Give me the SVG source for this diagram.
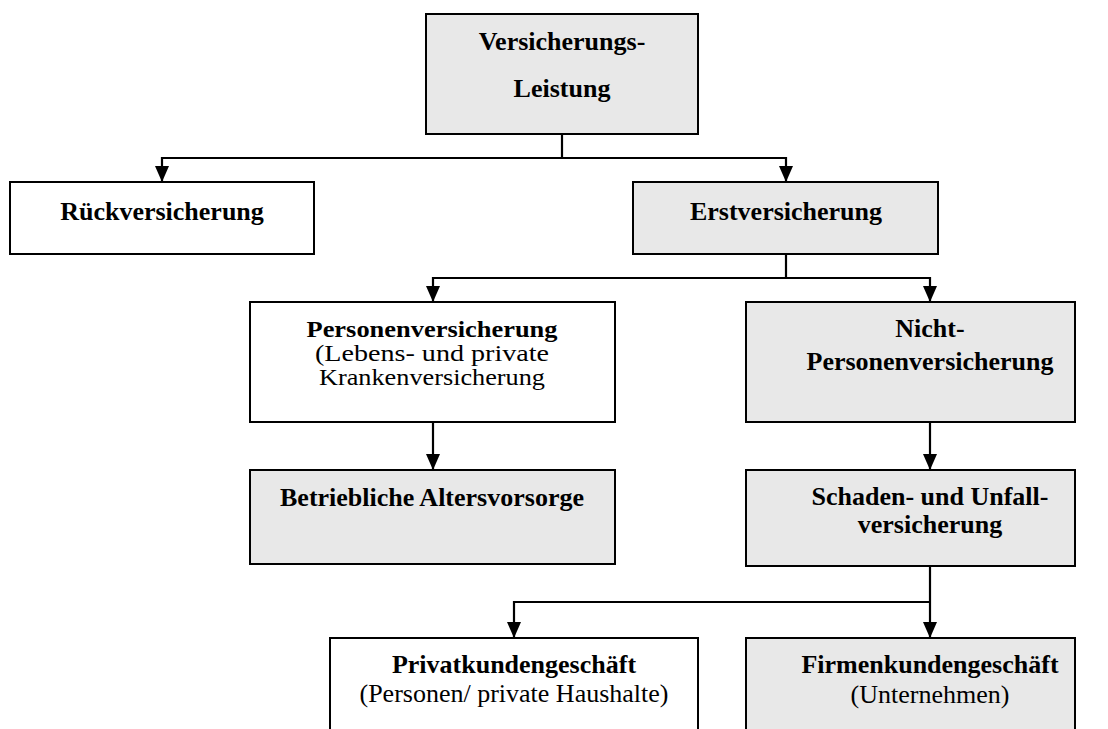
<svg xmlns="http://www.w3.org/2000/svg" width="1108" height="729" viewBox="0 0 1108 729">
  <style>
    .box { stroke: #000; stroke-width: 2; }
    .grey { fill: #e8e8e8; }
    .white { fill: #fff; }
    text { font-family: "Liberation Serif", "Times New Roman", serif; fill: #000; text-anchor: middle; }
    .b { font-weight: bold; font-size: 26px; }
    .r { font-size: 26px; }
    .s { font-size: 24px; }
    .conn { fill: none; stroke: #000; stroke-width: 2.2; }
  </style>
  <defs>
    <marker id="arr" markerUnits="userSpaceOnUse" markerWidth="16" markerHeight="16" viewBox="0 0 16 16" refX="16" refY="8" orient="auto">
      <path d="M0,1 L16,8 L0,15 z" fill="#000"/>
    </marker>
  </defs>
  <rect width="1108" height="729" fill="#fff"/>

  <g id="connectors">
    <path class="conn" d="M562,134 V158"/>
    <path class="conn" d="M562,158 H162 V182" marker-end="url(#arr)"/>
    <path class="conn" d="M562,158 H786 V182" marker-end="url(#arr)"/>
    <path class="conn" d="M786,254 V278"/>
    <path class="conn" d="M786,278 H433 V302" marker-end="url(#arr)"/>
    <path class="conn" d="M786,278 H930 V302" marker-end="url(#arr)"/>
    <path class="conn" d="M433,422 V470" marker-end="url(#arr)"/>
    <path class="conn" d="M930,422 V470" marker-end="url(#arr)"/>
    <path class="conn" d="M930,566 V638" marker-end="url(#arr)"/>
    <path class="conn" d="M930,602 H514 V638" marker-end="url(#arr)"/>
  </g>

  <g id="versicherungsleistung">
    <rect class="box grey" x="426" y="14" width="272" height="120"/>
    <text class="b" x="562" y="50">Versicherungs-</text>
    <text class="b" x="562" y="97">Leistung</text>
  </g>

  <g id="rueckversicherung">
    <rect class="box white" x="10" y="182" width="304" height="72"/>
    <text class="b" x="162" y="220">Rückversicherung</text>
  </g>

  <g id="erstversicherung">
    <rect class="box grey" x="633" y="182" width="305" height="72"/>
    <text class="b" x="786" y="220">Erstversicherung</text>
  </g>

  <g id="personenversicherung">
    <rect class="box white" x="250" y="302" width="365" height="120"/>
    <text class="b s" x="432" y="337" textLength="251" lengthAdjust="spacingAndGlyphs">Personenversicherung</text>
    <text class="s" x="432" y="361" textLength="234" lengthAdjust="spacingAndGlyphs">(Lebens- und private</text>
    <text class="s" x="432" y="385" textLength="226" lengthAdjust="spacingAndGlyphs">Krankenversicherung</text>
  </g>

  <g id="nichtpersonenversicherung">
    <rect class="box grey" x="746" y="302" width="329" height="120"/>
    <text class="b" x="930" y="337">Nicht-</text>
    <text class="b" x="930" y="370">Personenversicherung</text>
  </g>

  <g id="betriebliche-altersvorsorge">
    <rect class="box grey" x="250" y="470" width="365" height="94"/>
    <text class="b" x="432" y="506">Betriebliche Altersvorsorge</text>
  </g>

  <g id="schaden-unfall">
    <rect class="box grey" x="746" y="470" width="329" height="96"/>
    <text class="b" x="930" y="505">Schaden- und Unfall-</text>
    <text class="b" x="930" y="533">versicherung</text>
  </g>

  <g id="privatkunden">
    <rect class="box white" x="330" y="638" width="368" height="110"/>
    <text class="b" x="514" y="673">Privatkundengeschäft</text>
    <text class="r" x="514" y="702">(Personen/ private Haushalte)</text>
  </g>

  <g id="firmenkunden">
    <rect class="box grey" x="746" y="638" width="329" height="110"/>
    <text class="b" x="930" y="673">Firmenkundengeschäft</text>
    <text class="r" x="930" y="703">(Unternehmen)</text>
  </g>
</svg>
